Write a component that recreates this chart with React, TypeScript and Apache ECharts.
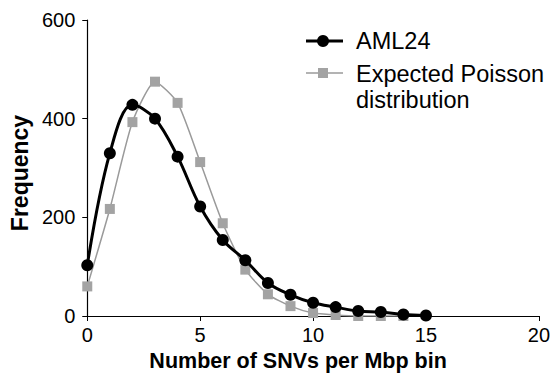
import React, { useEffect, useRef } from "react";
import * as echarts from "echarts";

const binCounts = [0, 1, 2, 3, 4, 5, 6, 7, 8, 9, 10, 11, 12, 13, 14, 15];
const aml24 = [103, 330, 428, 400, 323, 222, 154, 113, 67, 43, 27, 18, 10, 8, 3, 1];
const poisson = [60, 217, 393, 475, 432, 312, 188, 94, 44, 20, 6, 2, 0, 0, 0];
const xTicks = [0, 5, 10, 15, 20];
const yTicks = [0, 200, 400, 600];

const FONT = "Liberation Sans, Arial, Helvetica, sans-serif";

export default function App() {
  const ref = useRef<HTMLDivElement>(null);
  useEffect(() => {
    if (!ref.current) return;
    const chart = echarts.init(ref.current, null, { renderer: "svg" });
    const axisLine = { show: true, lineStyle: { color: "#000", width: 1.2 } };
    chart.setOption({
      animation: false,
      backgroundColor: "#fff",
      textStyle: { fontFamily: FONT },
      grid: { left: 86, right: 13, top: 20, bottom: 66 },
      xAxis: {
        type: "value",
        min: xTicks[0],
        max: xTicks[xTicks.length - 1],
        interval: 5,
        axisLine,
        axisTick: { show: true, length: 5, lineStyle: { color: "#000" } },
        splitLine: { show: false },
        axisLabel: { color: "#000", fontSize: 20, margin: 9, fontFamily: FONT },
        name: "Number of SNVs per Mbp bin",
        nameLocation: "middle",
        nameGap: 27,
        nameTextStyle: {
          color: "#000",
          fontSize: 21.5,
          fontWeight: "bold",
          fontFamily: FONT,
          padding: [0, 30, 0, 0],
        },
      },
      yAxis: {
        type: "value",
        min: yTicks[0],
        max: yTicks[yTicks.length - 1],
        interval: 200,
        axisLine,
        axisTick: { show: true, length: 5, lineStyle: { color: "#000" } },
        splitLine: { show: false },
        axisLabel: { color: "#000", fontSize: 20, margin: 12, fontFamily: FONT },
        name: "Frequency",
        nameLocation: "middle",
        nameGap: 52,
        nameTextStyle: {
          color: "#000",
          fontSize: 23,
          fontWeight: "bold",
          fontFamily: FONT,
          padding: [0, 10, 0, 0],
        },
      },
      series: [
        {
          name: "Expected Poisson distribution",
          type: "line",
          data: poisson.map((v, i) => [binCounts[i], v]),
          smooth: 0.2,
          symbol: "rect",
          symbolSize: 10,
          itemStyle: { color: "#a3a3a3" },
          lineStyle: { color: "#9a9a9a", width: 1.5 },
          z: 2,
        },
        {
          name: "AML24",
          type: "line",
          data: aml24.map((v, i) => [binCounts[i], v]),
          smooth: 0.35,
          symbol: "circle",
          symbolSize: 12,
          itemStyle: { color: "#000" },
          lineStyle: { color: "#000", width: 3 },
          z: 3,
        },
      ],
      graphic: [
        { type: "line", shape: { x1: 306, y1: 41, x2: 343, y2: 41 }, style: { stroke: "#000", lineWidth: 3 } },
        { type: "circle", shape: { cx: 323, cy: 41, r: 6 }, style: { fill: "#000" } },
        {
          type: "text",
          x: 356,
          y: 41,
          style: { text: "AML24", fontSize: 23.5, fontFamily: FONT, fill: "#000", verticalAlign: "middle" },
        },
        { type: "line", shape: { x1: 306, y1: 73, x2: 343, y2: 73 }, style: { stroke: "#9a9a9a", lineWidth: 1.5 } },
        { type: "rect", shape: { x: 318, y: 68, width: 10, height: 10 }, style: { fill: "#a3a3a3" } },
        {
          type: "text",
          x: 356,
          y: 74,
          style: { text: "Expected Poisson", fontSize: 23.5, fontFamily: FONT, fill: "#000", verticalAlign: "middle" },
        },
        {
          type: "text",
          x: 356,
          y: 100,
          style: { text: "distribution", fontSize: 23.5, fontFamily: FONT, fill: "#000", verticalAlign: "middle" },
        },
      ],
    });
    return () => chart.dispose();
  }, []);
  return <div ref={ref} style={{ width: 553, height: 382, position: "absolute", left: 0, top: 0 }} />;
}
